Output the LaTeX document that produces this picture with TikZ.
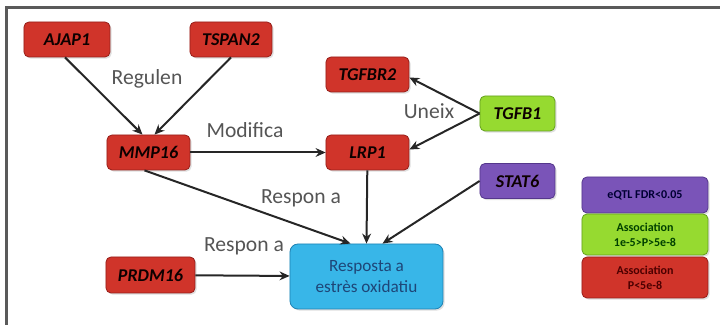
\documentclass[tikz,border=0pt]{standalone}
\usepackage{fontspec}
\setmainfont{Carlito}
\usetikzlibrary{shadows,arrows.meta}
\definecolor{genered}{RGB}{208,52,42}
\definecolor{genereddark}{RGB}{150,30,25}
\definecolor{genegreen}{RGB}{150,218,48}
\definecolor{genegreendark}{RGB}{100,160,30}
\definecolor{genepurple}{RGB}{122,84,184}
\definecolor{genepurpledark}{RGB}{85,55,140}
\definecolor{outcomeblue}{RGB}{56,182,232}
\definecolor{outcomebluedark}{RGB}{30,130,180}
\definecolor{outcometext}{RGB}{30,70,120}
\definecolor{labelgray}{RGB}{85,85,85}
\definecolor{framegray}{RGB}{90,90,90}
\tikzset{
  genebox/.style={draw=#1dark, fill=#1, rounded corners=2.5pt, line width=0.4pt,
    minimum height=17.5pt, inner sep=1pt,
    drop shadow={shadow xshift=0.8pt, shadow yshift=-0.8pt, opacity=0.25},
    font=\fontsize{9}{10}\selectfont\bfseries\itshape, text=black!95!red},
  legendbox/.style={draw=#1dark, fill=#1, rounded corners=2.5pt, line width=0.4pt,
    minimum width=63pt, inner sep=1pt, align=center,
    drop shadow={shadow xshift=0.8pt, shadow yshift=-0.8pt, opacity=0.25},
    font=\fontsize{6}{7.4}\selectfont\bfseries},
  link/.style={-{Stealth[length=5pt,width=4.4pt]}, line width=1pt, black!85},
  linklabel/.style={font=\fontsize{10.8}{12}\selectfont, text=labelgray, inner sep=1pt},
}
\begin{document}
\begin{tikzpicture}[x=0.5pt,y=-0.5pt]
\useasboundingbox (0,0) rectangle (720,325);
% frame edges along the top and left
\draw[framegray, line width=1.2pt] (6.5,325) -- (6.5,7.5) -- (720,7.5);

% gene nodes
\node[genebox=genered, minimum width=43pt] (ajap) at (67,39.5) {AJAP1};
\node[genebox=genered, minimum width=41pt] (tspan) at (231,39.5) {TSPAN2};
\node[genebox=genered, minimum width=41.5pt] (mmp) at (148.5,152.5) {MMP16};
\node[genebox=genered, minimum width=41.5pt] (tgfbr) at (367.5,74.5) {TGFBR2};
\node[genebox=genered, minimum width=41.5pt] (lrp) at (367.5,152.5) {LRP1};
\node[genebox=genegreen, minimum width=37.5pt] (tgfb) at (517.5,113.5) {TGFB1};
\node[genebox=genepurple, minimum width=37.5pt] (stat) at (517.5,181) {STAT6};
\node[genebox=genered, minimum width=44.5pt, minimum height=18pt] (prdm) at (150.5,275) {PRDM16};

% outcome node
\node[draw=outcomebluedark, fill=outcomeblue, rounded corners=4pt, line width=0.4pt,
  minimum width=76.5pt, minimum height=32.5pt, align=center,
  drop shadow={shadow xshift=0.8pt, shadow yshift=-0.8pt, opacity=0.25},
  font=\fontsize{8.6}{10.5}\selectfont, text=outcometext] (resp) at (366.5,276.5)
  {Resposta a\\estrès oxidatiu};

% legend
\node[legendbox=genepurple, minimum height=18pt, text=black!80!blue] (legq) at (645,195) {eQTL FDR<0.05};
\node[legendbox=genegreen, minimum height=20.5pt, text=black!75!green] (lega) at (645,234.5) {Association\\1e-5>P>5e-8};
\node[legendbox=genered, minimum height=20.5pt, text=black!70!red] (legb) at (645,277.5) {Association\\P<5e-8};

% connectors
\draw[link] ([xshift=-1]ajap.south) -- ([xshift=-3]mmp.north);
\draw[link] (tspan.south) -- ([xshift=3]mmp.north);
\draw[link] (mmp) -- (lrp);
\draw[link] (tgfb.west) -- ([yshift=-1.5pt]tgfbr.east);
\draw[link] (tgfb.west) -- ([yshift=1.5pt]lrp.east);
\draw[link] ([xshift=-2]mmp.south) -- ([xshift=-8]resp.north);
\draw[link] (lrp) -- (resp.north);
\draw[link] (stat.west) -- ([xshift=8]resp.north);
\draw[link] (prdm) -- (resp);

% connector labels
\node[linklabel] (lregulen) at (147,79) {Regulen};
\node[linklabel] (lmodifica) at (245,130) {Modifica};
\node[linklabel] (luneix) at (429,111) {Uneix};
\node[linklabel] (lrespon1) at (301,198) {Respon a};
\node[linklabel] (lrespon2) at (244,246) {Respon a};
\end{tikzpicture}
\end{document}
